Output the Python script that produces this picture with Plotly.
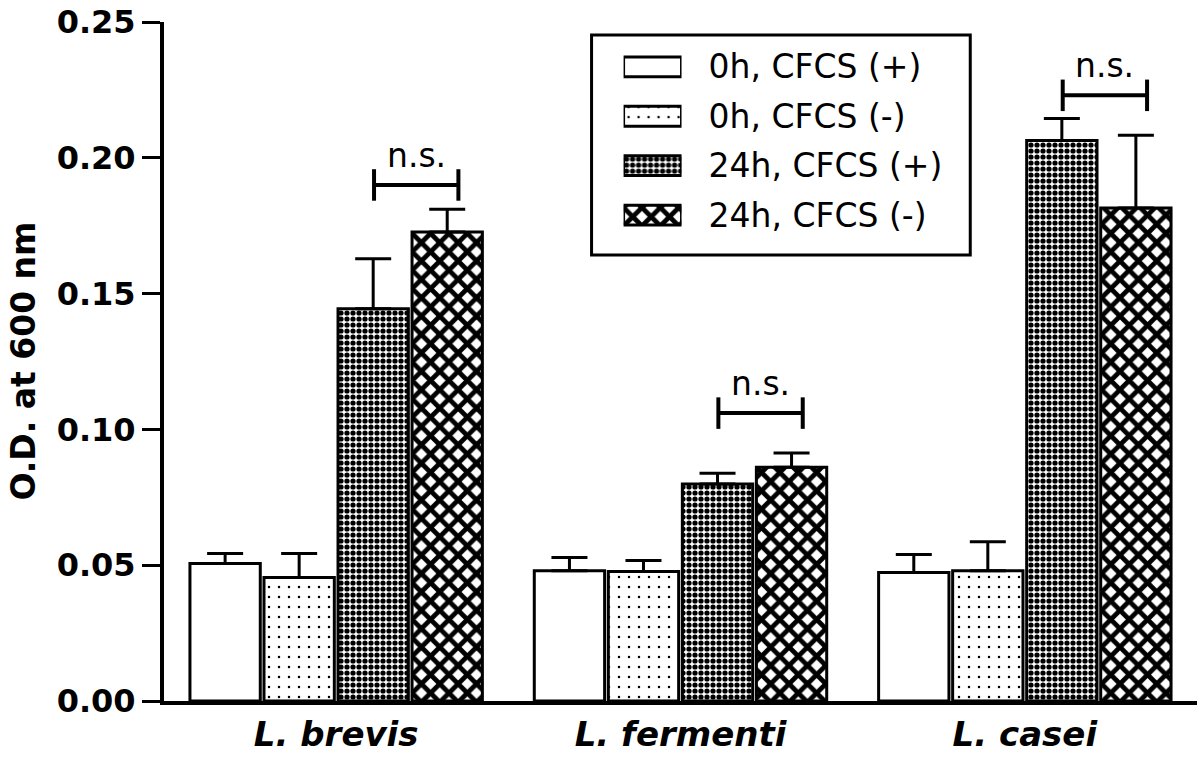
import plotly.graph_objects as go

categories = ["L. brevis", "L. fermenti", "L. casei"]
series_names = ["0h, CFCS (+)", "0h, CFCS (-)", "24h, CFCS (+)", "24h, CFCS (-)"]
vals_0h_pos = [0.0506, 0.0480, 0.0473]
vals_0h_neg = [0.0455, 0.0477, 0.0480]
vals_24h_pos = [0.1444, 0.0799, 0.2064]
vals_24h_neg = [0.1727, 0.0861, 0.1815]
err_0h_pos = [0.0037, 0.0048, 0.0066]
err_0h_neg = [0.0088, 0.0040, 0.0106]
err_24h_pos = [0.0184, 0.0040, 0.0081]
err_24h_neg = [0.0084, 0.0052, 0.0268]
ns_bracket_y = [0.190, 0.106, 0.223]
ns_label = "n.s."
y_ticks = [0.00, 0.05, 0.10, 0.15, 0.20, 0.25]
y_tick_text = ["0.00", "0.05", "0.10", "0.15", "0.20", "0.25"]

values = [vals_0h_pos, vals_0h_neg, vals_24h_pos, vals_24h_neg]
errors = [err_0h_pos, err_0h_neg, err_24h_pos, err_24h_neg]

patterns = [
    dict(shape="", size=8, solidity=0.3),
    dict(shape=".", size=10, solidity=0.05),
    dict(shape=".", size=6, solidity=0.6),
    dict(shape="x", size=13, solidity=0.6),
]

FONT = "DejaVu Sans"
fig = go.Figure()
for name, v, e, p in zip(series_names, values, errors, patterns):
    fig.add_trace(go.Bar(
        x=categories, y=v, name=name, showlegend=False,
        marker=dict(color="white", line=dict(color="black", width=3),
                    pattern=dict(shape=p["shape"], size=p["size"], solidity=p["solidity"],
                                 fgcolor="black", bgcolor="white", fgopacity=1)),
        error_y=dict(type="data", array=e, arrayminus=[0] * len(e), symmetric=False,
                     color="black", thickness=3, width=18),
    ))

# custom legend drawn as horizontal bars on an inset axis
fig.add_trace(go.Bar(
    y=series_names, x=[1, 1, 1, 1], orientation="h", width=0.4,
    xaxis="x2", yaxis="y2", showlegend=False, hoverinfo="skip",
    marker=dict(color="white", line=dict(color="black", width=3),
                pattern=dict(shape=[p["shape"] for p in patterns],
                             size=[p["size"] for p in patterns],
                             solidity=[p["solidity"] for p in patterns],
                             fgcolor="black", bgcolor="white", fgopacity=1)),
))

# n.s. brackets
for i, by in enumerate(ns_bracket_y):
    x0, x1 = i + 0.11, i + 0.355
    fig.add_shape(type="line", x0=x0, x1=x1, y0=by, y1=by, xref="x", yref="y",
                  line=dict(color="black", width=4))
    for xx in (x0, x1):
        fig.add_shape(type="line", x0=xx, x1=xx, y0=by - 0.0058, y1=by + 0.0058,
                      xref="x", yref="y", line=dict(color="black", width=4))
    fig.add_annotation(x=(x0 + x1) / 2, y=by, xref="x", yref="y", text=ns_label,
                       showarrow=False, yanchor="bottom", yshift=8,
                       font=dict(family=FONT, size=33, color="black"))

# legend box
fig.add_shape(type="rect", xref="paper", yref="paper", x0=0.4139, x1=0.7805,
              y0=0.6569, y1=0.981, line=dict(color="black", width=3), fillcolor="rgba(0,0,0,0)")

fig.add_annotation(xref="paper", yref="paper", x=-0.1364, y=0.5, text="<b>O.D. at 600 nm</b>",
                   textangle=-90, showarrow=False, xanchor="center", yanchor="middle",
                   font=dict(family=FONT, size=33, color="black"))

fig.update_layout(
    width=1200, height=759,
    margin=dict(l=164, r=3, t=19, b=58),
    paper_bgcolor="white", plot_bgcolor="white",
    barmode="group", bargap=0.14, bargroupgap=0.05,
    showlegend=False,
    xaxis=dict(range=[-0.5, 2.5], showline=True, linecolor="black", linewidth=4,
               ticks="", showgrid=False, zeroline=False,
               tickfont=dict(family=FONT, size=34, color="black", weight="bold", style="italic")),
    yaxis=dict(range=[0, 0.25], tickvals=y_ticks, ticktext=y_tick_text, showline=True,
               linecolor="black", linewidth=4, ticks="outside", ticklen=18, tickwidth=3,
               tickcolor="black", showgrid=False, zeroline=False,
               tickfont=dict(family=FONT, size=32, color="black", weight="bold")),
    xaxis2=dict(domain=[0.4449, 0.5010], range=[0, 1], anchor="y2", visible=False, fixedrange=True),
    yaxis2=dict(domain=[0.6792, 0.9704], anchor="x2", autorange="reversed", side="right",
                showline=False, ticks="", showgrid=False, zeroline=False, ticklabelstandoff=26,
                tickfont=dict(family=FONT, size=33, color="black")),
)

fig.write_html("out.html", config={"displayModeBar": False},
               post_script="document.body.style.margin='0';document.body.style.overflow='hidden';")
